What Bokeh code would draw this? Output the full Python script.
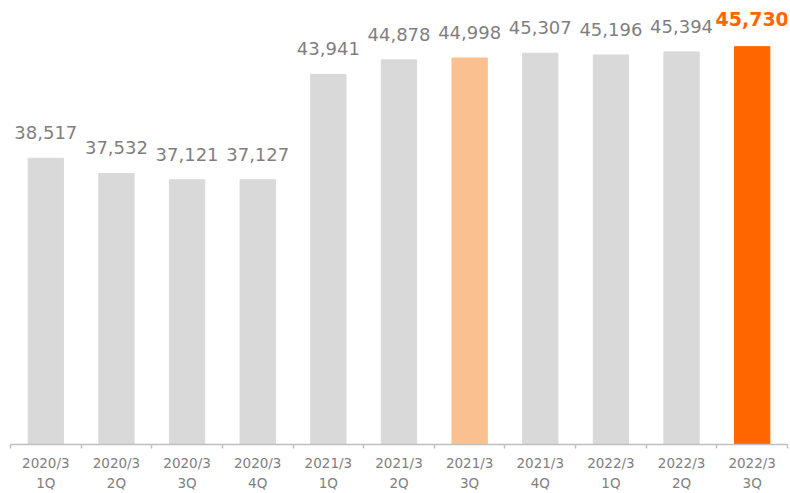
from bokeh.plotting import figure
from bokeh.models import ColumnDataSource, LabelSet, FixedTicker, Range1d, LinearAxis
from bokeh.core.properties import value
from bokeh.embed import file_html
from bokeh.resources import INLINE

fiscal = ["2020/3", "2020/3", "2020/3", "2020/3", "2021/3", "2021/3",
          "2021/3", "2021/3", "2022/3", "2022/3", "2022/3"]
quarters = ["1Q", "2Q", "3Q", "4Q", "1Q", "2Q", "3Q", "4Q", "1Q", "2Q", "3Q"]
values = [38517, 37532, 37121, 37127, 43941, 44878, 44998, 45307, 45196, 45394, 45730]

n = len(values)
xs = [i + 0.5 for i in range(n)]
colors = ["#D9D9D9"] * n
colors[-1] = "#FF6600"
colors[-5] = "#FAC090"

FONT = "DejaVu Sans"

p = figure(width=790, height=493, output_backend="svg", toolbar_location=None,
           x_range=Range1d(0, n), y_range=Range1d(20000, 48200),
           x_axis_location=None, y_axis_location=None,
           min_border_left=10, min_border_right=3, min_border_top=8, min_border_bottom=10)
p.outline_line_color = None
p.xgrid.visible = False
p.ygrid.visible = False
p.background_fill_color = "white"
p.border_fill_color = "white"

src = ColumnDataSource(dict(x=xs, top=values, color=colors))
p.vbar(x="x", top="top", bottom=20000, width=0.5, color="color", source=src)

normal = ColumnDataSource(dict(x=xs[:-1], y=values[:-1],
                               text=[f"{v:,}" for v in values[:-1]]))
last = ColumnDataSource(dict(x=xs[-1:], y=values[-1:],
                             text=[f"{v:,}" for v in values[-1:]]))

p.add_layout(LabelSet(x="x", y="y", text="text", source=normal,
                      text_align="center", text_baseline="alphabetic",
                      y_offset=19, text_font=value(FONT), text_font_size=value("18px"),
                      text_color="#7F7F7F"))
p.add_layout(LabelSet(x="x", y="y", text="text", source=last,
                      text_align="center", text_baseline="alphabetic",
                      y_offset=21, text_font=value(FONT), text_font_size=value("19px"),
                      text_font_style="bold", text_color="#FF6600"))


def make_axis(labels, with_line):
    ax = LinearAxis(ticker=FixedTicker(ticks=xs, minor_ticks=list(range(n + 1)) if with_line else []))
    ax.major_label_overrides = {x: t for x, t in zip(xs, labels)}
    ax.major_tick_line_color = None
    ax.major_tick_out = 0
    ax.major_tick_in = 0
    ax.minor_tick_in = 0
    if with_line:
        ax.minor_tick_line_color = "#BFBFBF"
        ax.minor_tick_out = 4
        ax.minor_tick_line_width = 1.5
        ax.axis_line_color = "#BFBFBF"
        ax.axis_line_width = 1.5
    else:
        ax.minor_tick_line_color = None
        ax.minor_tick_out = 0
        ax.axis_line_color = None
    ax.major_label_text_font = FONT
    ax.major_label_text_font_size = "13.5px"
    ax.major_label_text_color = "#808080"
    ax.major_label_standoff = 6 if with_line else 1
    return ax


p.add_layout(make_axis(fiscal, True), "below")
p.add_layout(make_axis(quarters, False), "below")

open("out.html", "w").write(file_html(p, INLINE))
